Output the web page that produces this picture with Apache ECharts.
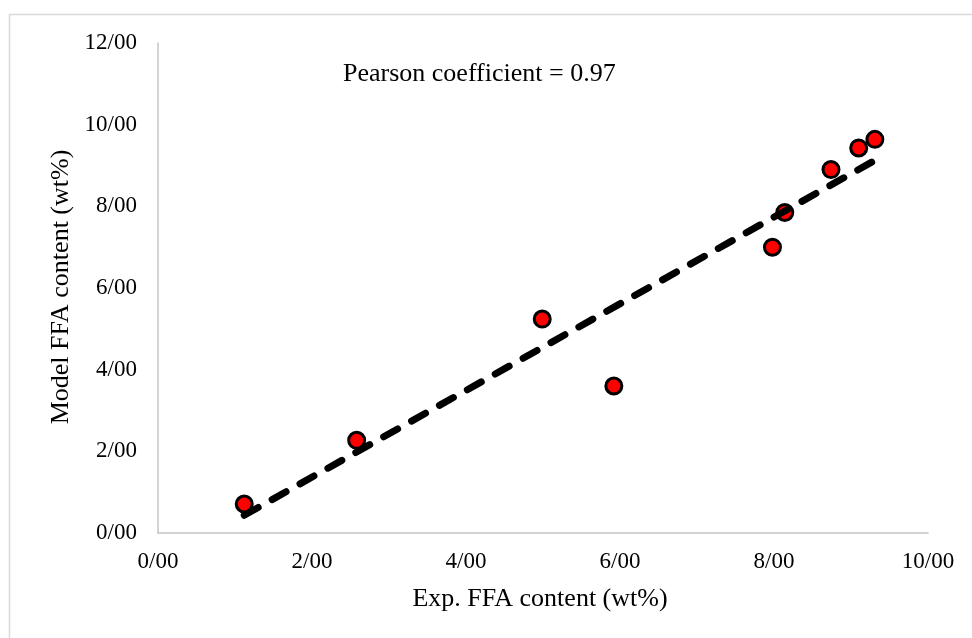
<!DOCTYPE html>
<html>
<head>
<meta charset="utf-8">
<script src="https://cdn.jsdelivr.net/npm/echarts@6/dist/echarts.min.js"></script>
<style>
  html, body { margin: 0; padding: 0; background: #fff; }
  #chart { width: 972px; height: 638px; }
</style>
</head>
<body>
<div id="chart"></div>
<script>
// measured points (Exp. vs Model FFA content)
var expFFA   = [1.12, 2.58, 4.99, 5.92, 7.98, 8.14, 8.74, 9.10, 9.31];
var modelFFA = [0.71, 2.27, 5.24, 3.60, 7.00, 7.85, 8.90, 9.43, 9.64];
var xTickLabels = ["0/00", "2/00", "4/00", "6/00", "8/00", "10/00"];
var yTickLabels = ["0/00", "2/00", "4/00", "6/00", "8/00", "10/00", "12/00"];
var pearsonText = "Pearson coefficient = 0.97";

var chart = echarts.init(document.getElementById("chart"));

// linear trend line (least squares) through the points
var n = expFFA.length, mx = 0, my = 0;
for (var i = 0; i < n; i++) { mx += expFFA[i]; my += modelFFA[i]; }
mx /= n; my /= n;
var sxy = 0, sxx = 0;
for (var i = 0; i < n; i++) {
  sxy += (expFFA[i] - mx) * (modelFFA[i] - my);
  sxx += (expFFA[i] - mx) * (expFFA[i] - mx);
}
var slope = sxy / sxx, icpt = my - slope * mx;
var xMin = Math.min.apply(null, expFFA), xMax = Math.max.apply(null, expFFA);
var trend = [[xMin, icpt + slope * xMin], [xMax, icpt + slope * xMax]];

var points = expFFA.map(function (x, i) { return [x, modelFFA[i]]; });

var font = "'Liberation Serif', 'Times New Roman', serif";
var axisLine = { show: true, lineStyle: { color: "#c4c4c4", width: 1.5 } };

var option = {
  backgroundColor: "#fff",
  animation: false,
  grid: { left: 158, top: 43, right: 44, bottom: 105 },
  xAxis: {
    type: "value", min: 0, max: 10, interval: 2,
    axisLine: axisLine,
    axisTick: { show: false },
    splitLine: { show: false },
    axisLabel: {
      margin: 17, color: "#000", fontFamily: font, fontSize: 23,
      formatter: function (v) { return xTickLabels[Math.round(v / 2)]; }
    }
  },
  yAxis: {
    type: "value", min: 0, max: 12, interval: 2,
    axisLine: axisLine,
    axisTick: { show: false },
    splitLine: { show: false },
    axisLabel: {
      margin: 21, color: "#000", fontFamily: font, fontSize: 23,
      formatter: function (v) { return yTickLabels[Math.round(v / 2)]; }
    }
  },
  graphic: [
    {
      type: "rect", silent: true, z: -1,
      shape: { x: 9.5, y: 14.5, width: 1000, height: 700 },
      style: { fill: "none", stroke: "#d9d9d9", lineWidth: 1.5 }
    },
    {
      type: "text", left: 343, top: 61,
      style: { text: pearsonText, font: "26px " + font, fill: "#000" }
    },
    {
      type: "text", x: 540, y: 599,
      style: { text: "Exp. FFA content (wt%)", font: "26px " + font, fill: "#000",
               textAlign: "center", textVerticalAlign: "middle" }
    },
    {
      type: "text", x: 61, y: 287, rotation: Math.PI / 2,
      style: { text: "Model FFA content (wt%)", font: "26px " + font, fill: "#000",
               textAlign: "center", textVerticalAlign: "middle" }
    }
  ],
  series: [
    {
      type: "scatter",
      data: points,
      symbol: "circle",
      symbolSize: 16,
      itemStyle: { color: "#ff0000", borderColor: "#000", borderWidth: 3, opacity: 1 }
    },
    {
      type: "line",
      data: trend,
      symbol: "none",
      z: 3,
      lineStyle: { color: "#000", width: 7, type: [16, 16], cap: "round" }
    }
  ]
};

chart.setOption(option);
</script>
</body>
</html>
